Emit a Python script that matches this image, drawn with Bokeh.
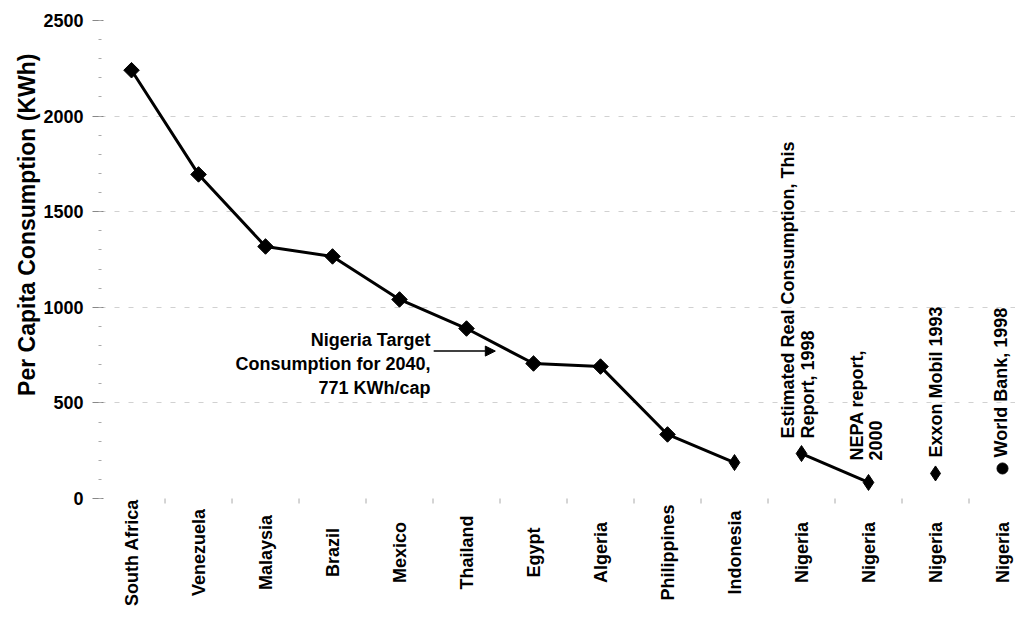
import math
from bokeh.plotting import figure
from bokeh.models import FixedTicker, Arrow, NormalHead, Range1d, ColumnDataSource, Title
from bokeh.core.properties import value
from bokeh.embed import file_html
from bokeh.resources import INLINE

# ---------------- data ----------------
categories = ["South Africa", "Venezuela", "Malaysia", "Brazil", "Mexico", "Thailand",
              "Egypt", "Algeria", "Philippines", "Indonesia",
              "Nigeria", "Nigeria", "Nigeria", "Nigeria"]
country_values = [2240, 1695, 1318, 1266, 1041, 889, 706, 690, 335, 188]
nigeria_estimate_values = [235, 84]          # Estimated real consumption 1998, NEPA 2000
exxon_value = [131]                          # Exxon Mobil 1993
world_bank_value = [157]                     # World Bank 1998
target_2040 = 771
y_max = 2500
y_ticks = [0, 500, 1000, 1500, 2000, 2500]
y_minor = list(range(0, 2600, 100))

FONT = "Liberation Sans"

x_main = list(range(len(country_values)))
x_nig = [len(country_values), len(country_values) + 1]
x_exxon = [len(country_values) + 2]
x_wb = [len(country_values) + 3]

W, H = 1015, 611
TOP, ZERO = 20, 498                      # pixel rows of 2500 and 0
px_per_unit = (ZERO - TOP) / y_max
y_start = -(H - ZERO) / px_per_unit      # room below 0 for the category names

p = figure(width=W, height=H, output_backend="svg", toolbar_location=None,
           x_range=Range1d(-0.463, 13 + (W - 1002) / 67),
           y_range=Range1d(y_start, y_max), x_axis_location=None,
           min_border_left=100, min_border_right=0, min_border_top=TOP,
           min_border_bottom=0)
p.outline_line_color = None
p.background_fill_color = "white"
p.border_fill_color = "white"

# grid
p.xgrid.grid_line_color = None
p.ygrid.ticker = FixedTicker(ticks=[500, 1000, 1500, 2000])
p.ygrid.grid_line_color = "#9a9a9a"
p.ygrid.grid_line_alpha = 0.45
p.ygrid.grid_line_dash = "5 9"
p.ygrid.grid_line_width = 1

# y axis
ya = p.yaxis[0]
ya.ticker = FixedTicker(ticks=y_ticks, minor_ticks=y_minor)
ya.axis_line_color = None
ya.major_tick_line_color = "#888888"
ya.major_tick_out = 8
ya.major_tick_in = 3
ya.minor_tick_line_color = "#aaaaaa"
ya.minor_tick_out = 2
ya.minor_tick_in = 1
ya.major_label_standoff = 9
ya.major_label_text_font = FONT
ya.major_label_text_font_style = "bold"
ya.major_label_text_font_size = "18px"
ya.major_label_text_color = "black"

p.add_layout(Title(text="Per Capita Consumption (KWh)", align="right", offset=33,
                   text_font=FONT, text_font_style="bold", text_font_size="23px",
                   text_color="black", standoff=2), "left")

# category axis: boundary ticks and centred rotated names
bounds = [i + 0.5 for i in range(len(categories) - 1)]
p.ray(x=bounds, y=[0] * len(bounds), length=5, length_units="screen",
      angle=-math.pi / 2, line_color="#aaaaaa", line_width=1)
cat_src = ColumnDataSource(dict(x=list(range(len(categories))),
                                y=[0] * len(categories), text=categories))
p.text(x="x", y="y", text="text", source=cat_src, y_offset=54,
       angle=math.pi / 2, text_align="center", text_baseline="middle",
       text_font=value(FONT), text_font_style="bold",
       text_font_size="18px", text_color="black")

# main series
main_markers = ["square"] * (len(country_values) - 1) + ["diamond"]
main_angles = [math.pi / 4] * (len(country_values) - 1) + [0]
main_sizes = [11] * (len(country_values) - 1) + [16]
main_src = ColumnDataSource(dict(x=x_main, y=country_values, m=main_markers,
                                 a=main_angles, s=main_sizes))
p.line(x_main, country_values, line_color="black", line_width=3)
p.scatter(x="x", y="y", marker="m", angle="a", size="s", source=main_src,
          fill_color="black", line_color="black")

# Nigeria estimates
p.line(x_nig, nigeria_estimate_values, line_color="black", line_width=3)
p.scatter(x_nig, nigeria_estimate_values, marker="diamond", size=16,
          fill_color="black", line_color="black")
p.scatter(x_exxon, exxon_value, marker="diamond", size=15,
          fill_color="black", line_color="black")
p.scatter(x_wb, world_bank_value, marker="circle", size=11,
          fill_color="black", line_color="black")

# rotated labels for the Nigeria points
lab_x = [x_nig[0], x_nig[0], x_nig[1], x_nig[1], x_exxon[0], x_wb[0]]
lab_y = [nigeria_estimate_values[0], nigeria_estimate_values[0],
         nigeria_estimate_values[1], nigeria_estimate_values[1],
         exxon_value[0], world_bank_value[0]]
lab_text = ["Estimated Real Consumption, This", "Report, 1998",
            "NEPA report,", "2000", "Exxon Mobil 1993", "World Bank, 1998"]
lab_xo = [-14, 6, -12, 7, 0, -2]
lab_yo = [-15, -15, -22, -22, -16, -11]
src = ColumnDataSource(dict(x=lab_x, y=lab_y, text=lab_text, xo=lab_xo, yo=lab_yo))
p.text(x="x", y="y", text="text", x_offset="xo", y_offset="yo", source=src,
       angle=math.pi / 2, text_align="left", text_baseline="middle",
       text_font=value(FONT), text_font_style="bold", text_font_size="18px",
       text_color="black")

# target annotation
tx = 4.463
p.text(x=[tx, tx, tx], y=[target_2040] * 3,
       text=["Nigeria Target", "Consumption for 2040,", f"{target_2040} KWh/cap"],
       y_offset=[-11, 13, 37], text_align="right", text_baseline="middle",
       text_font=value(FONT), text_font_style="bold", text_font_size="18px",
       text_color="black")
p.add_layout(Arrow(x_start=4.51, y_start=target_2040, x_end=5.43, y_end=target_2040,
                   line_color="black", line_width=1.5,
                   end=NormalHead(size=10, fill_color="black", line_color="black")))

open("out.html", "w").write(file_html(p, INLINE))
